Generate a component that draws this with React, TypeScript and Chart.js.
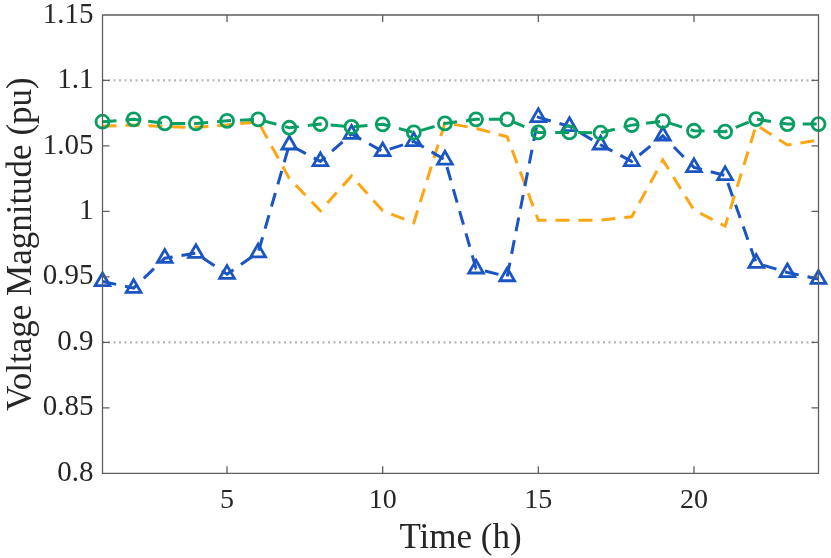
import React, { useEffect, useRef } from "react";
import { Chart, registerables } from "chart.js";

Chart.register(...registerables);

const hours = [1, 2, 3, 4, 5, 6, 7, 8, 9, 10, 11, 12, 13, 14, 15, 16, 17, 18, 19, 20, 21, 22, 23, 24];

const circleSeries = [
  1.0685, 1.0703, 1.0672, 1.0672, 1.0692, 1.0703, 1.0639, 1.0667, 1.0645, 1.0665, 1.0603, 1.0672,
  1.0703, 1.0703, 1.0603, 1.0603, 1.0601, 1.0659, 1.069, 1.0616, 1.0609, 1.0705, 1.0667, 1.0667,
];
const triangleSeries = [
  0.9465, 0.9414, 0.9643, 0.9681, 0.9521, 0.9685, 1.0509, 1.0382, 1.0591, 1.0458, 1.0535, 1.0394,
  0.9562, 0.9503, 1.0718, 1.065, 1.0509, 1.0382, 1.0578, 1.0336, 1.0275, 0.9605, 0.9534, 0.9483,
];
const plainSeries = [
  1.065, 1.066, 1.0647, 1.0642, 1.066, 1.0685, 1.0252, 1.0005, 1.027, 1.0005, 0.9913, 1.0677,
  1.0634, 1.057, 0.9933, 0.9933, 0.9933, 0.9959, 1.0392, 1.001, 0.9888, 1.066, 1.0507, 1.0545,
];

const upperLimit = 1.1;
const lowerLimit = 0.9;

const xTicks = [5, 10, 15, 20];
const yTicks = [0.8, 0.85, 0.9, 0.95, 1, 1.05, 1.1, 1.15];

const FONT = "'Liberation Serif', 'Times New Roman', serif";
const TEXT = "#262626";
const AXIS = "#5f5f5f";

// MATLAB-like box with inward ticks
const boxPlugin = {
  id: "box",
  afterDatasetsDraw(chart: any) {
    const { ctx, chartArea, scales } = chart;
    const { left, right, top, bottom } = chartArea;
    const tl = 7;
    ctx.save();
    ctx.strokeStyle = AXIS;
    ctx.lineWidth = 1.3;
    ctx.beginPath();
    ctx.rect(left, top, right - left, bottom - top);
    scales.x.ticks.forEach((t: any) => {
      const px = scales.x.getPixelForValue(t.value);
      ctx.moveTo(px, bottom);
      ctx.lineTo(px, bottom - tl);
      ctx.moveTo(px, top);
      ctx.lineTo(px, top + tl);
    });
    scales.y.ticks.forEach((t: any) => {
      const py = scales.y.getPixelForValue(t.value);
      ctx.moveTo(left, py);
      ctx.lineTo(left + tl, py);
      ctx.moveTo(right, py);
      ctx.lineTo(right - tl, py);
    });
    ctx.stroke();
    ctx.restore();
  },
};

export default function App() {
  const canvasRef = useRef<HTMLCanvasElement | null>(null);

  useEffect(() => {
    document.body.style.margin = "0";
    if (!canvasRef.current) return;
    const ctx = canvasRef.current.getContext("2d");
    if (!ctx) return;

    const limitLine = (v: number) => ({
      data: [
        { x: hours[0], y: v },
        { x: hours[hours.length - 1], y: v },
      ],
      borderColor: "#b4b4b4",
      borderWidth: 2.2,
      borderDash: [2, 3.5],
      pointRadius: 0,
      order: 5,
    });

    const chart = new Chart(ctx, {
      type: "line",
      data: {
        datasets: [
          {
            label: "circles",
            data: hours.map((h, i) => ({ x: h, y: circleSeries[i] })),
            borderColor: "#0a9f62",
            borderWidth: 3,
            borderDash: [14, 9],
            pointStyle: "circle",
            pointRadius: 6.5,
            pointBorderWidth: 2.8,
            pointBackgroundColor: "rgba(0,0,0,0)",
            pointBorderColor: "#0a9f62",
            clip: false,
            order: 0,
          },
          {
            label: "triangles",
            data: hours.map((h, i) => ({ x: h, y: triangleSeries[i] })),
            borderColor: "#1a55c2",
            borderWidth: 3,
            borderDash: [14, 9],
            pointStyle: "triangle",
            pointRadius: 8.5,
            pointBorderWidth: 2.8,
            pointBackgroundColor: "rgba(0,0,0,0)",
            pointBorderColor: "#1a55c2",
            clip: false,
            order: 1,
          },
          {
            label: "plain",
            data: hours.map((h, i) => ({ x: h, y: plainSeries[i] })),
            borderColor: "#fca612",
            borderWidth: 3,
            borderDash: [14, 9],
            pointRadius: 0,
            clip: false,
            order: 2,
          },
          limitLine(upperLimit),
          limitLine(lowerLimit),
        ],
      },
      options: {
        animation: false,
        responsive: false,
        devicePixelRatio: 1,
        layout: { padding: { left: 0, top: 15, right: 12.5, bottom: 0 } },
        plugins: { legend: { display: false }, tooltip: { enabled: false } },
        scales: {
          x: {
            type: "linear",
            min: 1,
            max: 24,
            afterBuildTicks: (axis: any) => {
              axis.ticks = xTicks.map((v) => ({ value: v }));
            },
            afterFit: (axis: any) => {
              axis.height = 84.7;
              axis.paddingLeft = 0;
              axis.paddingRight = 0;
            },
            grid: { display: false, drawTicks: false },
            border: { display: false },
            ticks: {
              color: TEXT,
              padding: 13,
              font: { family: FONT, size: 28, lineHeight: 1 },
              callback: (v: any) => String(v),
            },
            title: {
              display: true,
              text: "Time (h)",
              color: TEXT,
              font: { family: FONT, size: 35, lineHeight: 1 },
              padding: { top: 0, bottom: 2 },
            },
          },
          y: {
            type: "linear",
            min: 0.8,
            max: 1.15,
            afterBuildTicks: (axis: any) => {
              axis.ticks = yTicks.map((v) => ({ value: v }));
            },
            afterFit: (axis: any) => {
              axis.width = 102.5;
              axis.paddingTop = 0;
              axis.paddingBottom = 0;
            },
            grid: { display: false, drawTicks: false },
            border: { display: false },
            ticks: {
              color: TEXT,
              padding: 9,
              font: { family: FONT, size: 29, lineHeight: 1 },
              callback: (v: any) => String(Number(Number(v).toFixed(2))),
            },
            title: {
              display: true,
              text: "Voltage Magnitude (pu)",
              color: TEXT,
              font: { family: FONT, size: 35, lineHeight: 1 },
              padding: { top: 4, bottom: 0 },
            },
          },
        },
      },
      plugins: [boxPlugin],
    } as any);

    return () => chart.destroy();
  }, []);

  return (
    <div style={{ width: 831, height: 558, background: "#ffffff" }}>
      <canvas ref={canvasRef} width={831} height={558} />
    </div>
  );
}
